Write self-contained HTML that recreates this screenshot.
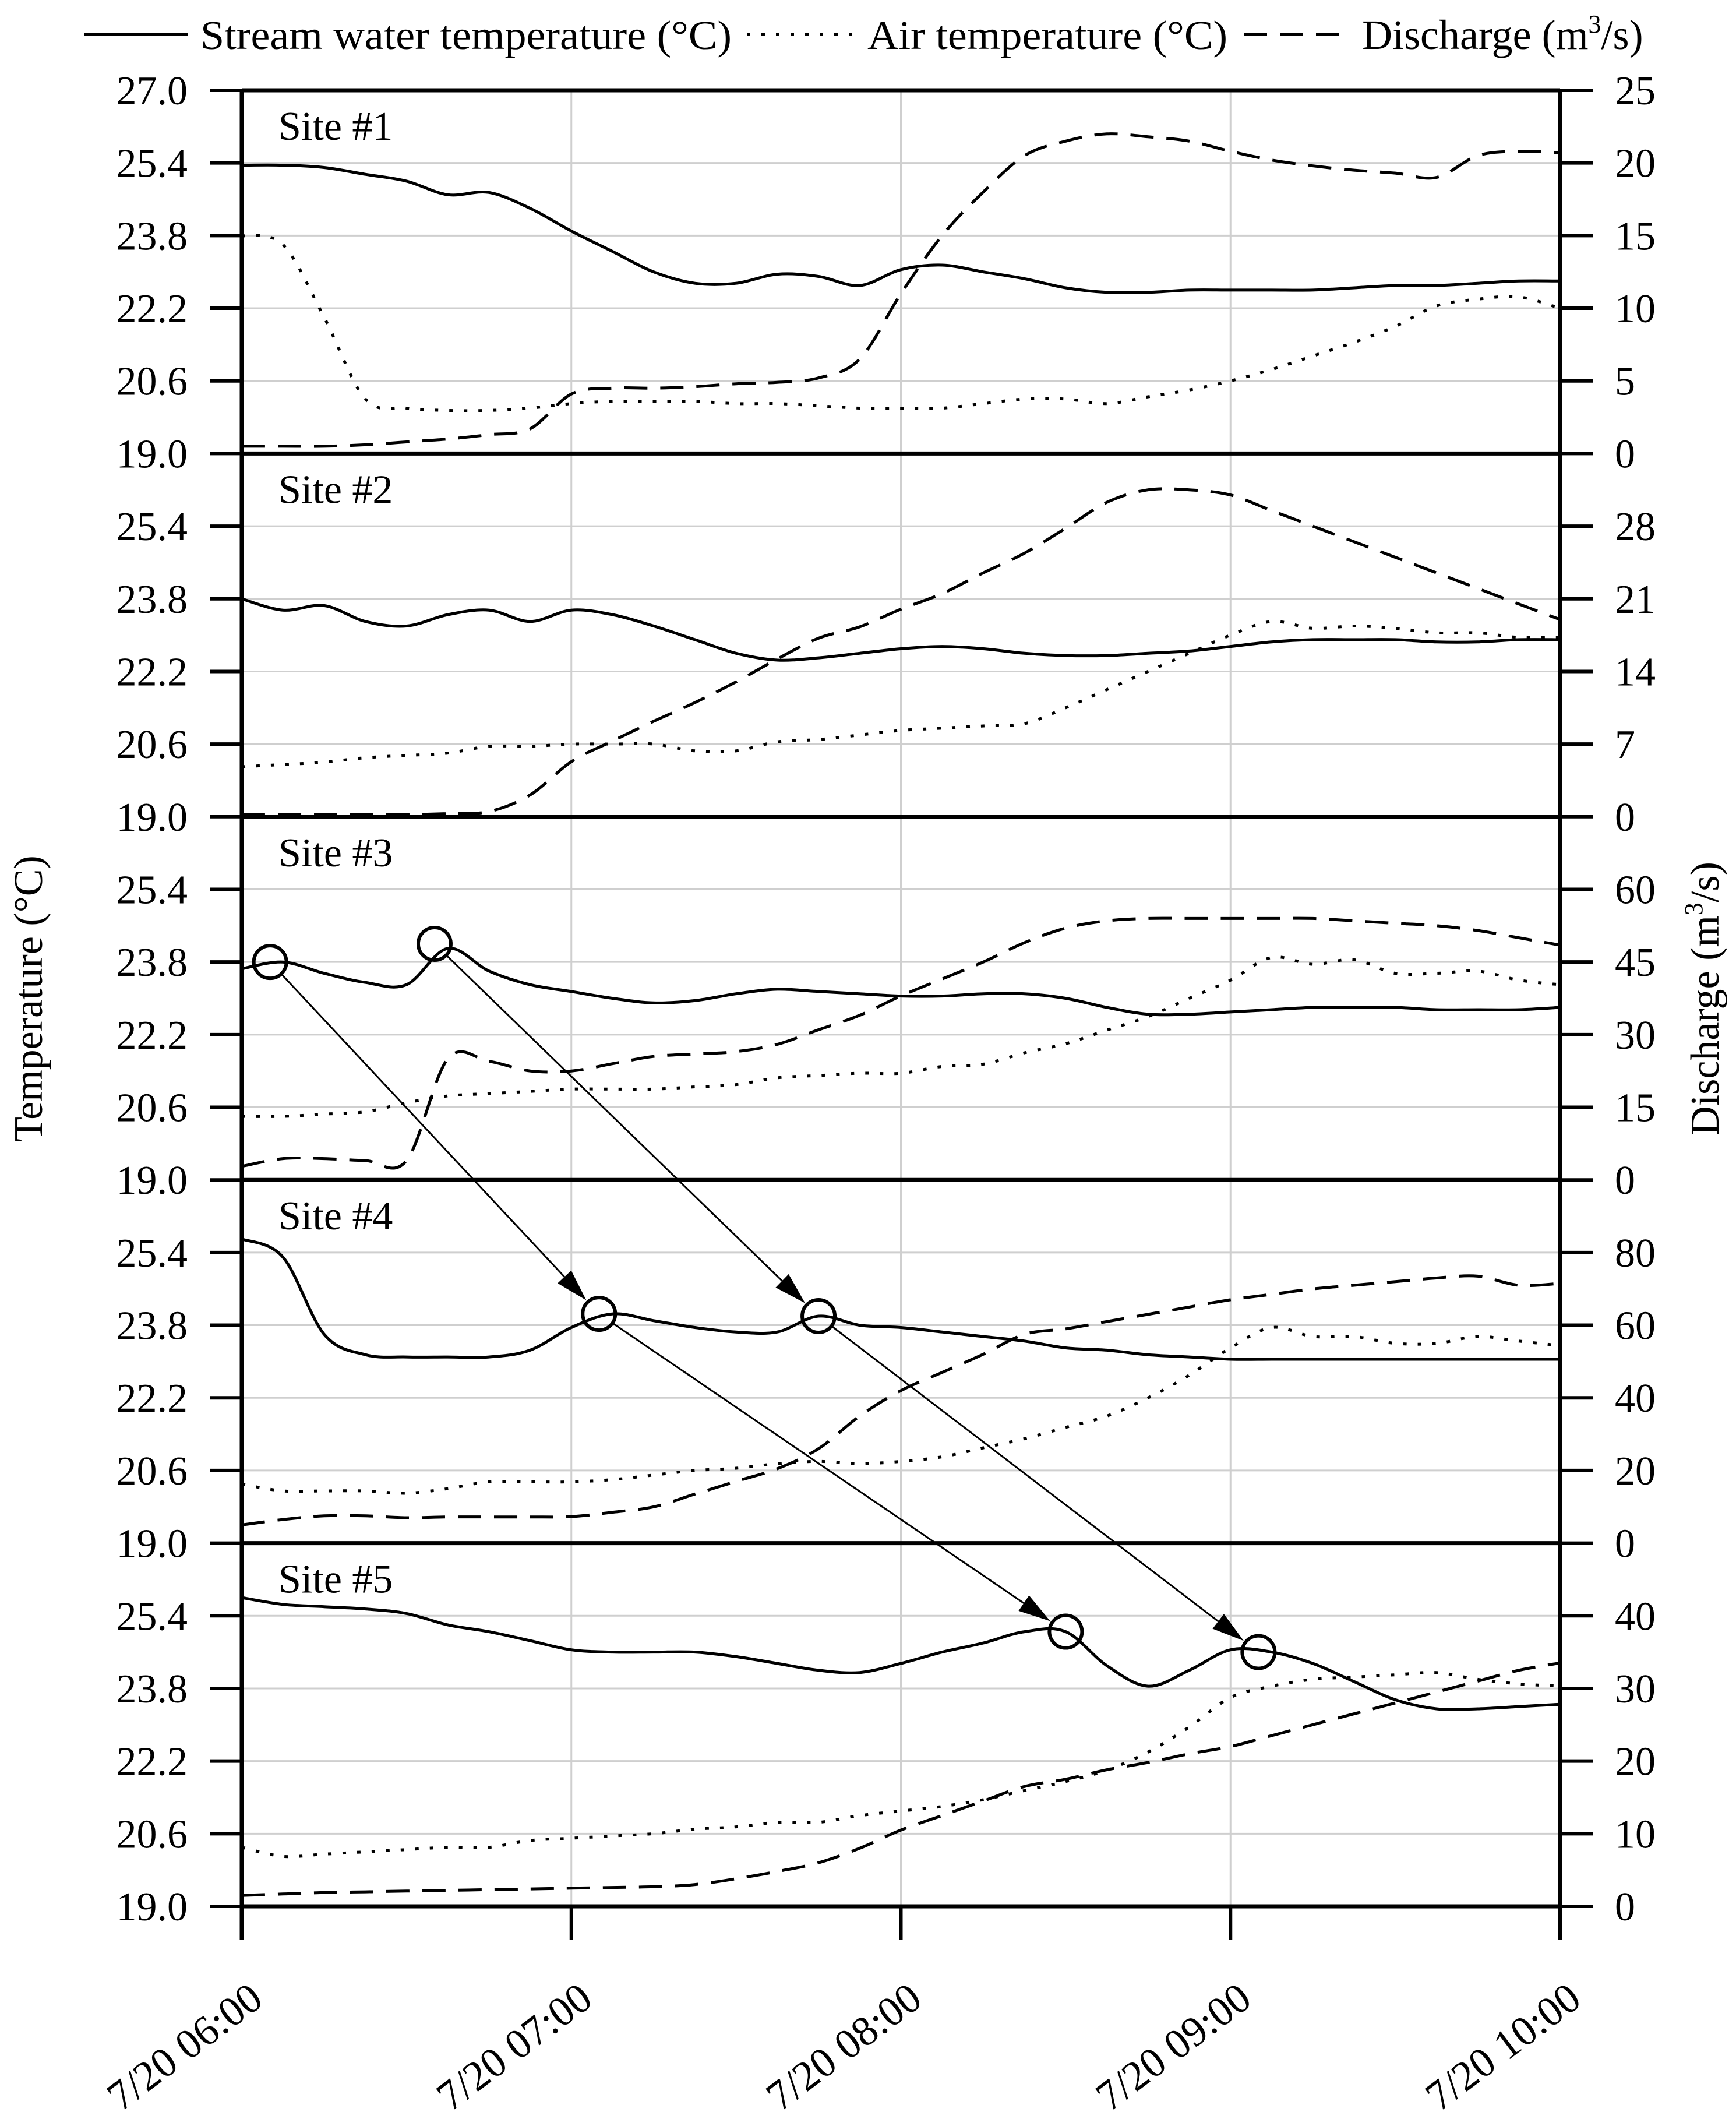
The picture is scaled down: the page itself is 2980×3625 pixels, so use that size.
<!DOCTYPE html>
<html><head><meta charset="utf-8"><style>
html,body{margin:0;padding:0;background:#fff;}
svg{display:block;font-family:"Liberation Serif",serif;}
</style></head><body>
<svg id="chart" width="2980" height="3625" viewBox="0 0 2980 3625" xmlns="http://www.w3.org/2000/svg">
<g id="legend">
  <g><line x1="145" y1="59" x2="322" y2="59" stroke="#000" stroke-width="5"/><text x="344" y="84" font-size="70" textLength="912" lengthAdjust="spacingAndGlyphs">Stream water temperature (°C)</text></g>
  <g><line x1="1282" y1="59" x2="1477" y2="59" stroke="#000" stroke-width="5" stroke-dasharray="6 19"/><text x="1489" y="84" font-size="70" textLength="618" lengthAdjust="spacingAndGlyphs">Air temperature (°C)</text></g>
  <g><line x1="2135" y1="59" x2="2318" y2="59" stroke="#000" stroke-width="5" stroke-dasharray="40 22"/><text x="2338" y="84" font-size="72">Discharge (m<tspan font-size="44" dy="-28">3</tspan><tspan dy="28">/s)</tspan></text></g>
</g>
<g id="grid"></g>
<g id="series"></g>
<g id="axes"></g>
<g id="annot"></g>
<text font-size="70" text-anchor="middle" transform="translate(72,1714) rotate(-90)">Temperature (°C)</text>
<text font-size="70" text-anchor="middle" transform="translate(2950,1714) rotate(-90)">Discharge (m<tspan font-size="44" dy="-28">3</tspan><tspan dy="28">/s)</tspan></text>
</svg>
<script>
// ---- data (time grid in hours after 06:00, step 0.125) ----
const hourLabels = ["7/20 06:00","7/20 07:00","7/20 08:00","7/20 09:00","7/20 10:00"];
const siteNames = ["Site #1","Site #2","Site #3","Site #4","Site #5"];
const tempTicks = [19.0,20.6,22.2,23.8,25.4,27.0];
const dischargeMax = [25,35,75,100,50];
const dischargeStep = [5,7,15,20,10];
const water1 = [25.35,25.35,25.3,25.15,25.0,24.7,24.75,24.4,23.9,23.45,23.0,22.75,22.75,22.95,22.9,22.7,23.05,23.15,23.0,22.85,22.65,22.55,22.55,22.6,22.6,22.6,22.6,22.65,22.7,22.7,22.75,22.8,22.8];
const air1 = [23.8,23.6,22.0,20.2,20.0,19.95,19.95,20.0,20.1,20.15,20.15,20.15,20.1,20.1,20.05,20.0,20.0,20.0,20.1,20.2,20.2,20.1,20.25,20.4,20.6,20.85,21.15,21.45,21.8,22.25,22.4,22.45,22.2];
const q1 = [0.5,0.5,0.5,0.6,0.8,1.0,1.3,1.7,4.1,4.5,4.5,4.6,4.8,4.9,5.2,6.5,11,15,18,20.5,21.5,22,21.8,21.5,20.8,20.2,19.8,19.5,19.3,19.0,20.5,20.8,20.7];
const water2 = [23.8,23.55,23.65,23.3,23.2,23.45,23.55,23.3,23.55,23.45,23.2,22.9,22.6,22.45,22.5,22.6,22.7,22.75,22.7,22.6,22.55,22.55,22.6,22.65,22.75,22.85,22.9,22.9,22.9,22.85,22.85,22.9,22.9];
const air2 = [20.1,20.15,20.2,20.3,20.35,20.4,20.55,20.55,20.6,20.6,20.6,20.45,20.45,20.65,20.7,20.8,20.9,20.95,21.0,21.05,21.4,21.8,22.2,22.6,23.0,23.3,23.15,23.2,23.15,23.05,23.05,22.95,22.95];
const q2 = [0.2,0.2,0.2,0.2,0.2,0.3,0.5,2.1,5.3,7.3,9.2,11,13,15.2,17.2,18.3,20,21.5,23.5,25.4,27.8,30.3,31.5,31.5,31,29.5,28,26.5,25,23.5,22,20.5,19];
const water3 = [23.65,23.8,23.55,23.35,23.3,24.1,23.6,23.3,23.15,23.0,22.9,22.95,23.1,23.2,23.15,23.1,23.05,23.05,23.1,23.1,23.0,22.8,22.65,22.65,22.7,22.75,22.8,22.8,22.8,22.75,22.75,22.75,22.8];
const air3 = [20.4,20.4,20.45,20.5,20.7,20.85,20.9,20.95,21.0,21.0,21.0,21.05,21.1,21.25,21.3,21.35,21.35,21.5,21.55,21.8,22.0,22.3,22.6,23.0,23.4,23.9,23.75,23.85,23.55,23.55,23.6,23.4,23.3];
const q3 = [2.8,4.4,4.4,4.0,4.0,25,24.5,22.5,22.5,24,25.5,26,26.5,28,31,34,38,41.5,45,49,52,53.5,54,54,54,54,54,53.5,53,52.5,51.5,50,48.5];
const water4 = [25.7,25.3,23.6,23.15,23.1,23.1,23.1,23.25,23.75,24.05,23.9,23.75,23.65,23.65,24.0,23.8,23.75,23.65,23.55,23.45,23.3,23.25,23.15,23.1,23.05,23.05,23.05,23.05,23.05,23.05,23.05,23.05,23.05];
const air4 = [20.3,20.15,20.15,20.15,20.1,20.2,20.35,20.35,20.35,20.4,20.5,20.6,20.65,20.75,20.8,20.75,20.8,20.9,21.1,21.3,21.55,21.8,22.2,22.7,23.3,23.75,23.55,23.55,23.4,23.4,23.55,23.45,23.35];
const q4 = [5,6.5,7.5,7.5,7.0,7.2,7.2,7.2,7.3,8.5,10,13.5,17,20.5,26,35,42,47,52,57.5,59,61,63,65,67,68.5,70,71,72,73,73.5,71,71.5];
const water5 = [25.8,25.65,25.6,25.55,25.45,25.2,25.05,24.85,24.65,24.6,24.6,24.6,24.5,24.35,24.2,24.15,24.35,24.6,24.8,25.05,25.05,24.3,23.85,24.2,24.65,24.6,24.35,23.95,23.55,23.35,23.35,23.4,23.45];
const air5 = [20.3,20.1,20.15,20.2,20.25,20.3,20.3,20.45,20.5,20.55,20.6,20.7,20.75,20.85,20.85,21.0,21.1,21.2,21.35,21.55,21.75,22.0,22.4,22.95,23.6,23.85,24.0,24.05,24.1,24.15,24.0,23.9,23.85];
const q5 = [1.5,1.7,1.9,2.0,2.1,2.2,2.3,2.4,2.5,2.6,2.7,3.0,3.8,4.8,6.0,8.0,10.5,12.5,14.5,16.5,17.5,18.8,19.8,21.0,22.0,23.5,25.0,26.5,28.0,29.5,31,32.5,33.5];
const waterSeries = [water1,water2,water3,water4,water5];
const airSeries = [air1,air2,air3,air4,air5];
const qSeries = [q1,q2,q3,q4,q5];
// circled peaks: [hour, temperature, panel index]
const peakHours = [0.086,0.585,1.084,1.75,2.5,3.085];
const peakTemps = [23.8,24.2,24.05,24.0,25.05,24.6];
const peakPanels = [2,2,3,3,4,4];
const arrowFrom = [0,2,1,3];
const arrowTo = [2,4,3,5];

// ---- layout ----
const L=415,R=2678,TOP=155,PH=623.4,STEP=0.125;
const NS="http://www.w3.org/2000/svg";
const xs = h => L + h/4*(R-L);
const panelBottom = p => TOP + (p+1)*PH;
const yT = (p,t) => panelBottom(p) - (t-19)/8*PH;
const yQ = (p,q) => panelBottom(p) - q/dischargeMax[p]*PH;
function mk(tag,attrs,parent){const e=document.createElementNS(NS,tag);for(const k in attrs)e.setAttribute(k,attrs[k]);parent.appendChild(e);return e;}
function smooth(pts){
  let d='M'+pts[0][0].toFixed(1)+','+pts[0][1].toFixed(1);
  for(let i=0;i<pts.length-1;i++){
    const p0=pts[Math.max(0,i-1)],p1=pts[i],p2=pts[i+1],p3=pts[Math.min(pts.length-1,i+2)];
    const c1x=p1[0]+(p2[0]-p0[0])/6,c1y=p1[1]+(p2[1]-p0[1])/6;
    const c2x=p2[0]-(p3[0]-p1[0])/6,c2y=p2[1]-(p3[1]-p1[1])/6;
    d+=` C${c1x.toFixed(1)},${c1y.toFixed(1)} ${c2x.toFixed(1)},${c2y.toFixed(1)} ${p2[0].toFixed(1)},${p2[1].toFixed(1)}`;
  }
  return d;
}
const grid=document.getElementById('grid'),series=document.getElementById('series'),axes=document.getElementById('axes'),annot=document.getElementById('annot');

for(let p=0;p<5;p++){
  tempTicks.forEach(t=>{ if(t>19&&t<27){const g=mk('line',{x1:L,x2:R,y1:yT(p,t),y2:yT(p,t),stroke:'#cfcfcf','stroke-width':3},grid);
    
    }});
  tempTicks.forEach((t,i)=>{
    if(t===27.0 && p>0) return;
    mk('line',{x1:360,x2:L,y1:yT(p,t),y2:yT(p,t),stroke:'#000','stroke-width':6},axes);
    const tx=mk('text',{x:322,y:yT(p,t)+24,'font-size':70,'text-anchor':'end'},axes);
    tx.textContent=t.toFixed(1);
    
    
  });
  for(let q=0;q<=dischargeMax[p]+0.001;q+=dischargeStep[p]){
    if(p>0 && q>=dischargeMax[p]-0.001) continue;
    mk('line',{x1:R,x2:2735,y1:yQ(p,q),y2:yQ(p,q),stroke:'#000','stroke-width':6},axes);
    const tx=mk('text',{x:2772,y:yQ(p,q)+24,'font-size':70},axes);
    tx.textContent=String(q);
    
    
  }
  const sep=mk('line',{x1:L,x2:R,y1:panelBottom(p),y2:panelBottom(p),stroke:'#000','stroke-width':7},axes);
  
  
  const lab=mk('text',{x:478,y:TOP+p*PH+85,'font-size':70},axes);
  lab.textContent=siteNames[p];
  
  
  const pW=waterSeries[p].map((v,i)=>[xs(i*STEP),yT(p,v)]);
  const pA=airSeries[p].map((v,i)=>[xs(i*STEP),yT(p,v)]);
  const pQ=qSeries[p].map((v,i)=>[xs(i*STEP),yQ(p,v)]);
  const a=mk('path',{d:smooth(pA),fill:'none',stroke:'#000','stroke-width':5,'stroke-dasharray':'6 19'},series);
  
  
  const d=mk('path',{d:smooth(pQ),fill:'none',stroke:'#000','stroke-width':5,'stroke-dasharray':'40 22'},series);
  
  
  const w=mk('path',{d:smooth(pW),fill:'none',stroke:'#000','stroke-width':5,'stroke-linejoin':'round'},series);
  
  
}
hourLabels.forEach((lb,i)=>{
  const x=xs(i);
  if(i>0&&i<4){const g=mk('line',{x1:x,x2:x,y1:TOP,y2:panelBottom(4),stroke:'#cfcfcf','stroke-width':3},grid);
    
    }
  mk('line',{x1:x,x2:x,y1:panelBottom(4),y2:panelBottom(4)+58,stroke:'#000','stroke-width':6},axes);
  const t=mk('text',{x:0,y:0,'font-size':72,'text-anchor':'end',transform:`translate(${x+40},${panelBottom(4)+167}) rotate(-37)`},axes);
  t.textContent=lb;
  
  
});
const lft=mk('line',{x1:L,x2:L,y1:TOP-3,y2:panelBottom(4)+58,stroke:'#000','stroke-width':7},axes);


const rgt=mk('line',{x1:R,x2:R,y1:TOP-3,y2:panelBottom(4)+58,stroke:'#000','stroke-width':7},axes);


const tp=mk('line',{x1:L,x2:R,y1:TOP,y2:TOP,stroke:'#000','stroke-width':7},axes);


const cx=[],cy=[];
peakHours.forEach((h,i)=>{cx.push(xs(h));cy.push(yT(peakPanels[i],peakTemps[i]));
  const c=mk('circle',{cx:cx[i],cy:cy[i],r:28,fill:'none',stroke:'#000','stroke-width':6},annot);
  
  });
arrowFrom.forEach((f,k)=>{
  const t=arrowTo[k];
  const dx=cx[t]-cx[f],dy=cy[t]-cy[f],len=Math.hypot(dx,dy),ux=dx/len,uy=dy/len;
  const sx=cx[f]+ux*28,sy=cy[f]+uy*28,ex=cx[t]-ux*32,ey=cy[t]-uy*32;
  const bx=ex-ux*55,by=ey-uy*55;
  const g=mk('g',{},annot);
  
  
  mk('line',{x1:sx,y1:sy,x2:bx,y2:by,stroke:'#000','stroke-width':3},g);
  mk('polygon',{points:`${ex},${ey} ${bx-uy*16},${by+ux*16} ${bx+uy*16},${by-ux*16}`,fill:'#000'},g);
});
</script>
</body></html>
